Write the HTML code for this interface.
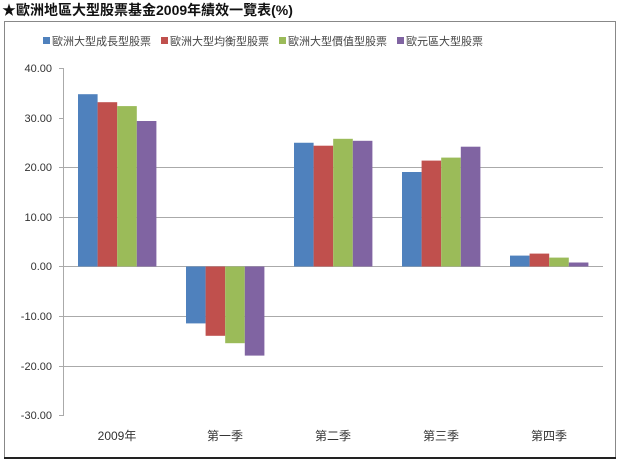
<!DOCTYPE html>
<html><head><meta charset="utf-8"><style>
html,body{margin:0;padding:0;background:#fff;width:620px;height:460px;overflow:hidden}
</style></head><body>
<svg width="620" height="460" xmlns="http://www.w3.org/2000/svg" font-family="'Liberation Sans','Noto Sans CJK TC',sans-serif">
<text x="2" y="15" font-size="14" font-weight="bold" fill="#111">★歐洲地區大型股票基金2009年績效一覽表(%)</text>
<rect x="4.5" y="21.5" width="611" height="436" fill="#fff" stroke="#888"/>
<line x1="4" y1="458" x2="616" y2="458" stroke="#222" stroke-width="2"/>
<g font-size="11" fill="#444">
<rect x="43" y="37" width="7" height="7" fill="#4f81bd"/><text x="52" y="45">歐洲大型成長型股票</text>
<rect x="161" y="37" width="7" height="7" fill="#c0504d"/><text x="170" y="45">歐洲大型均衡型股票</text>
<rect x="279" y="37" width="7" height="7" fill="#9bbb59"/><text x="288" y="45">歐洲大型價值型股票</text>
<rect x="397" y="37" width="7" height="7" fill="#8064a2"/><text x="406" y="45">歐元區大型股票</text>
</g>
<g stroke="#aaa" stroke-width="1">
<line x1="59" y1="167.5" x2="603" y2="167.5"/>
<line x1="59" y1="217.5" x2="603" y2="217.5"/>
<line x1="59" y1="266.5" x2="603" y2="266.5"/>
<line x1="59" y1="316.5" x2="603" y2="316.5"/>
<line x1="59" y1="366.5" x2="603" y2="366.5"/>
<line x1="59" y1="68.5" x2="63" y2="68.5"/>
<line x1="59" y1="118.5" x2="63" y2="118.5"/>
<line x1="59" y1="415.5" x2="63" y2="415.5"/>
<line x1="63.5" y1="68" x2="63.5" y2="416"/>
</g>
<g font-size="11" fill="#333" text-anchor="end">
<text x="52" y="72">40.00</text><text x="52" y="122">30.00</text><text x="52" y="171">20.00</text>
<text x="52" y="221">10.00</text><text x="52" y="270">0.00</text><text x="52" y="320">-10.00</text>
<text x="52" y="370">-20.00</text><text x="52" y="419">-30.00</text>
</g>
<g>
<rect x="78" y="94.2" width="19.6" height="172.3" fill="#4f81bd"/>
<rect x="97.6" y="102.2" width="19.6" height="164.3" fill="#c0504d"/>
<rect x="117.2" y="106.1" width="19.6" height="160.4" fill="#9bbb59"/>
<rect x="136.8" y="121" width="19.6" height="145.5" fill="#8064a2"/>
<rect x="186" y="266.5" width="19.6" height="56.9" fill="#4f81bd"/>
<rect x="205.6" y="266.5" width="19.6" height="69.3" fill="#c0504d"/>
<rect x="225.2" y="266.5" width="19.6" height="76.7" fill="#9bbb59"/>
<rect x="244.8" y="266.5" width="19.6" height="89.1" fill="#8064a2"/>
<rect x="294" y="142.75" width="19.6" height="123.75" fill="#4f81bd"/>
<rect x="313.6" y="145.7" width="19.6" height="120.8" fill="#c0504d"/>
<rect x="333.2" y="138.8" width="19.6" height="127.7" fill="#9bbb59"/>
<rect x="352.8" y="140.8" width="19.6" height="125.7" fill="#8064a2"/>
<rect x="402" y="172" width="19.6" height="94.5" fill="#4f81bd"/>
<rect x="421.6" y="160.6" width="19.6" height="105.9" fill="#c0504d"/>
<rect x="441.2" y="157.6" width="19.6" height="108.9" fill="#9bbb59"/>
<rect x="460.8" y="146.7" width="19.6" height="119.8" fill="#8064a2"/>
<rect x="510" y="255.6" width="19.6" height="10.9" fill="#4f81bd"/>
<rect x="529.6" y="253.6" width="19.6" height="12.9" fill="#c0504d"/>
<rect x="549.2" y="257.6" width="19.6" height="8.9" fill="#9bbb59"/>
<rect x="568.8" y="262.5" width="19.6" height="4" fill="#8064a2"/>
</g>
<g font-size="12" fill="#333" text-anchor="middle">
<text x="117" y="440">2009年</text><text x="225" y="440">第一季</text><text x="333" y="440">第二季</text>
<text x="441" y="440">第三季</text><text x="549" y="440">第四季</text>
</g>
</svg>
</body></html>
